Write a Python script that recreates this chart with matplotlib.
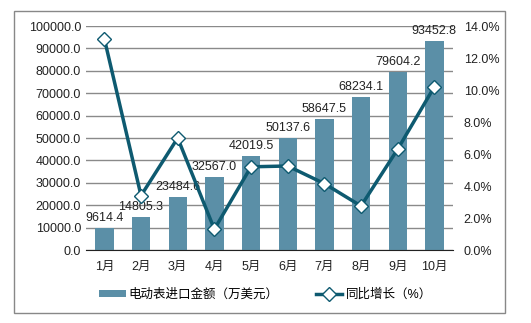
import numpy as np
import matplotlib
matplotlib.use("Agg")
import matplotlib.pyplot as plt
from matplotlib.patches import Rectangle
from matplotlib.ticker import FuncFormatter, MultipleLocator

plt.rcParams['font.family'] = ['Liberation Sans', 'Noto Sans CJK SC', 'DejaVu Sans']

# data
months = ['1月', '2月', '3月', '4月', '5月', '6月', '7月', '8月', '9月', '10月']
amount = [9614.4, 14805.3, 23484.6, 32567.0, 42019.5, 50137.6, 58647.5, 68234.1, 79604.2, 93452.8]
growth = [13.2, 3.4, 7.0, 1.3, 5.2, 5.25, 4.15, 2.75, 6.3, 10.2]
bar_name = '电动表进口金额（万美元）'
line_name = '同比增长（%）'

bar_color = '#5b8fa7'
line_color = '#0e5a70'

fig = plt.figure(figsize=(5.31, 3.23), dpi=100)
ax = fig.add_axes([0.162, 0.226, 0.6905, 0.6935])

x = np.arange(len(months))
bars = ax.bar(x, amount, width=0.5, color=bar_color, zorder=2, label=bar_name)
for xi, v in zip(x, amount):
    ax.text(xi, v + 1800, f'{v:.1f}', ha='center', va='bottom', fontsize=9, color='#222222')

ax.set_ylim(0, 100000)
ax.set_xlim(-0.5, len(months) - 0.5)
ax.yaxis.set_major_locator(MultipleLocator(10000))
ax.yaxis.set_major_formatter(FuncFormatter(lambda v, p: f'{v:.1f}'))
ax.grid(axis='y', color='#8a8a8a', linewidth=1, zorder=0)
ax.set_axisbelow(True)
ax.set_xticks(x)
ax.set_xticklabels(months)
ax.tick_params(length=0, labelsize=9, colors='#222222')
ax.tick_params(axis='x', pad=8)
for s in ['left', 'right', 'top']:
    ax.spines[s].set_visible(False)
ax.spines['bottom'].set_color('#222222')

ax2 = ax.twinx()
line, = ax2.plot(x, growth, color=line_color, linewidth=2.5, marker='D', markersize=7,
                 markerfacecolor='white', markeredgecolor=line_color, markeredgewidth=1,
                 label=line_name, zorder=3)
ax2.set_ylim(0, 14)
ax2.yaxis.set_major_locator(MultipleLocator(2))
ax2.yaxis.set_major_formatter(FuncFormatter(lambda v, p: f'{v:.1f}%'))
ax2.tick_params(length=0, labelsize=9, colors='#222222', pad=8)
for s in ['left', 'right', 'top', 'bottom']:
    ax2.spines[s].set_visible(False)

fig.legend([bars, line], [bar_name, line_name], loc='center', bbox_to_anchor=(0.5, 0.087),
           ncol=2, frameon=False, fontsize=9, handlelength=2.1, handleheight=0.45,
           columnspacing=3, handletextpad=0.25)

fig.add_artist(Rectangle((14 / 531, 10 / 323), 491 / 531, 302 / 323, transform=fig.transFigure,
                         fill=False, edgecolor='#888888', linewidth=1))

fig.savefig('out.png', dpi=100)
